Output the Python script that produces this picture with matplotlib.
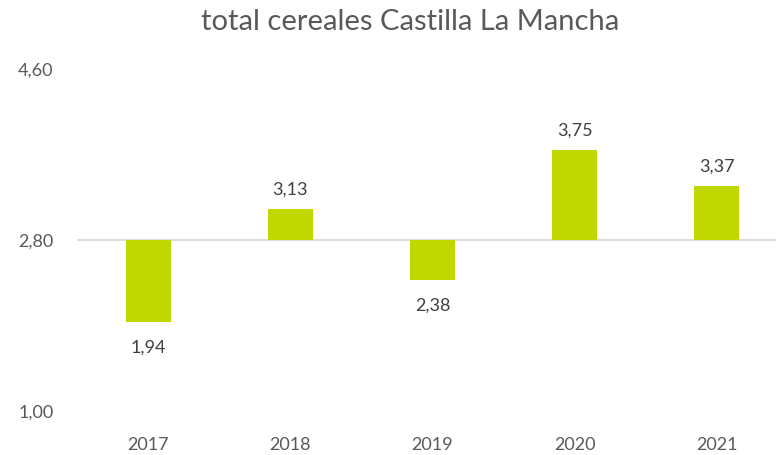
import matplotlib.pyplot as plt

years = ["2017", "2018", "2019", "2020", "2021"]
values = [1.94, 3.13, 2.38, 3.75, 3.37]
base = 2.80
y_ticks = [1.00, 2.80, 4.60]

bar_color = "#C0D800"
text_color = "#595959"
label_color = "#404040"

plt.rcParams["font.family"] = ["Lato", "DejaVu Sans"]

fig = plt.figure(figsize=(7.76, 4.55), dpi=100)
# plot area runs past the right edge, as in the cropped original
ax = fig.add_axes([77 / 776, 1 - 411 / 455, 711 / 776, (411 - 69) / 455])

x = list(range(len(years)))
heights = [v - base for v in values]
ax.bar(x, heights, bottom=base, width=0.316, color=bar_color, zorder=3)
ax.axhline(base, color="#D9D9D9", linewidth=1.3, zorder=2)

for xi, v in zip(x, values):
    label = f"{v:.2f}".replace(".", ",")
    if v >= base:
        ax.annotate(label, (xi, v), xytext=(0, 8), textcoords="offset points",
                    ha="center", va="bottom", fontsize=13, color=label_color)
    else:
        ax.annotate(label, (xi, v), xytext=(0, -13), textcoords="offset points",
                    ha="center", va="top", fontsize=13, color=label_color)

ax.set_xlim(-0.5, len(years) - 0.5)
ax.set_ylim(y_ticks[0], y_ticks[-1])
ax.set_yticks(y_ticks)
ax.set_yticklabels([f"{t:.2f}".replace(".", ",") for t in y_ticks])
ax.set_xticks(x)
ax.set_xticklabels(years)
ax.tick_params(axis="both", length=0, labelsize=13, colors=text_color)
ax.tick_params(axis="x", pad=19)
ax.tick_params(axis="y", pad=17)
for side in ax.spines.values():
    side.set_visible(False)

fig.text(410 / 776, 1 - 22 / 455, "total cereales Castilla La Mancha", ha="center", va="center",
         fontsize=21, color=text_color)

fig.savefig("out.png", dpi=100)
